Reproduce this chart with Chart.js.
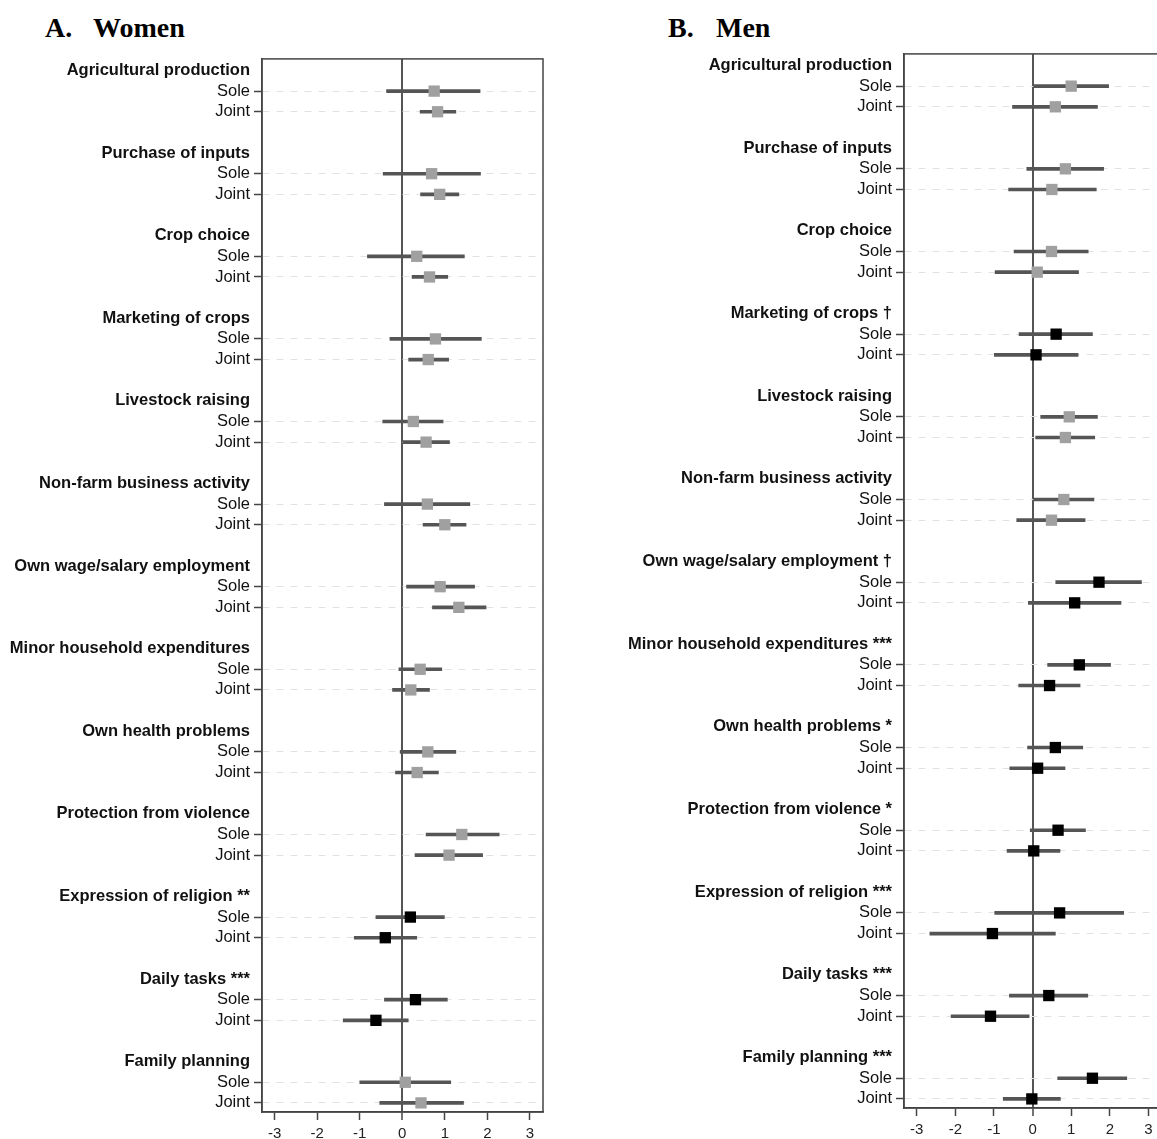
<!DOCTYPE html>
<html lang="en">
<head>
<meta charset="UTF-8">
<title>Decision-making: Women and Men</title>
<script src="https://cdn.jsdelivr.net/npm/chart.js"></script>
<style>
  body {
    margin: 0;
    background: #fff;
    width: 1157px;
    height: 1139px;
    overflow: hidden;
    position: relative;
  }
  .title {
    position: absolute;
    top: 12px;
    font-family: 'Liberation Serif', 'Times New Roman', serif;
    font-weight: bold;
    font-size: 28px;
    line-height: 32px;
    color: #000;
    white-space: nowrap;
  }
  .title span { display: inline-block; width: 48px; }
  .box { position: absolute; }
</style>
</head>
<body>
<div class="title" style="left:45px"><span>A.</span>Women</div>
<div class="title" style="left:668px"><span>B.</span>Men</div>

<div class="box" style="left:0; top:45px;"><canvas id="womenChart" width="560" height="1094"></canvas></div>
<div class="box" style="left:600px; top:40px;"><canvas id="menChart" width="570" height="1095"></canvas></div>

<script>
const groups = ['Agricultural production', 'Purchase of inputs', 'Crop choice', 'Marketing of crops',
  'Livestock raising', 'Non-farm business activity', 'Own wage/salary employment',
  'Minor household expenditures', 'Own health problems', 'Protection from violence',
  'Expression of religion', 'Daily tasks', 'Family planning'];
const xTicks = [-3, -2, -1, 0, 1, 2, 3];

// women
const womenStars = ['', '', '', '', '', '', '', '', '', '', '**', '***', ''];
const womenSoleEst = [0.75, 0.69, 0.34, 0.78, 0.26, 0.59, 0.89, 0.42, 0.60, 1.40, 0.19, 0.31, 0.07];
const womenSoleLo = [-0.37, -0.45, -0.82, -0.29, -0.46, -0.42, 0.10, -0.08, -0.05, 0.56, -0.62, -0.42, -1.00];
const womenSoleHi = [1.83, 1.84, 1.46, 1.86, 0.96, 1.59, 1.70, 0.93, 1.26, 2.28, 0.99, 1.06, 1.14];
const womenJointEst = [0.83, 0.88, 0.64, 0.61, 0.56, 1.00, 1.33, 0.20, 0.35, 1.10, -0.40, -0.62, 0.44];
const womenJointLo = [0.42, 0.43, 0.23, 0.15, 0.02, 0.49, 0.71, -0.23, -0.16, 0.30, -1.13, -1.39, -0.53];
const womenJointHi = [1.26, 1.33, 1.07, 1.09, 1.11, 1.50, 1.97, 0.64, 0.85, 1.89, 0.34, 0.14, 1.44];

// men
const menStars = ['', '', '', '\u2020', '', '', '\u2020', '***', '*', '*', '***', '***', '***'];
const menSoleEst = [1.00, 0.85, 0.49, 0.61, 0.95, 0.81, 1.72, 1.21, 0.59, 0.66, 0.70, 0.42, 1.55];
const menSoleLo = [0.00, -0.15, -0.48, -0.35, 0.21, 0.00, 0.60, 0.39, -0.13, -0.06, -0.98, -0.60, 0.65];
const menSoleHi = [1.97, 1.84, 1.44, 1.55, 1.68, 1.59, 2.82, 2.02, 1.30, 1.37, 2.36, 1.43, 2.44];
const menJointEst = [0.59, 0.50, 0.12, 0.09, 0.85, 0.49, 1.09, 0.44, 0.13, 0.03, -1.04, -1.09, -0.02];
const menJointLo = [-0.52, -0.62, -0.97, -0.99, 0.08, -0.41, -0.11, -0.36, -0.59, -0.66, -2.66, -2.11, -0.76];
const menJointHi = [1.68, 1.65, 1.19, 1.18, 1.61, 1.36, 2.29, 1.23, 0.84, 0.71, 0.59, -0.09, 0.72];

const FONT = "'Liberation Sans', Arial, sans-serif";

// box around the plot area
const framePlugin = {
  id: 'frame',
  afterDraw(chart) {
    const { ctx, chartArea: a } = chart;
    ctx.save();
    ctx.strokeStyle = '#444';
    ctx.lineWidth = 1.5;
    ctx.strokeRect(a.left, a.top, a.right - a.left, a.bottom - a.top);
    ctx.restore();
  }
};

function makeChart(id, stars, sEst, sLo, sHi, jEst, jLo, jHi, cfg) {
  // each group takes 4 rows: heading, Sole, Joint, blank
  const rowLabels = {};
  const ci = [], pts = [], colors = [];
  groups.forEach((g, i) => {
    const r = 4 * i;
    rowLabels[r] = stars[i] ? g + ' ' + stars[i] : g;
    rowLabels[r + 1] = 'Sole';
    rowLabels[r + 2] = 'Joint';
    const c = stars[i] ? '#000000' : '#a0a0a0';
    ci.push({ y: r + 1, x: [sLo[i], sHi[i]] });
    ci.push({ y: r + 2, x: [jLo[i], jHi[i]] });
    pts.push({ x: sEst[i], y: r + 1 });
    pts.push({ x: jEst[i], y: r + 2 });
    colors.push(c, c);
  });
  const rows = Object.keys(rowLabels).map(Number);
  const isHead = v => v % 4 === 0;

  new Chart(document.getElementById(id), {
    type: 'scatter',
    data: {
      datasets: [
        {
          type: 'scatter',
          data: pts,
          pointStyle: 'rect',
          pointRadius: 8,
          backgroundColor: colors,
          borderColor: colors,
          borderWidth: 0,
          order: 0
        },
        {
          type: 'bar',
          indexAxis: 'y',
          data: ci,
          backgroundColor: '#555',
          barThickness: 3,
          order: 1
        }
      ]
    },
    options: {
      responsive: false,
      animation: false,
      events: [],
      layout: { padding: { top: 9, right: cfg.padRight, left: 0, bottom: 0 } },
      plugins: { legend: { display: false }, tooltip: { enabled: false } },
      scales: {
        x: {
          type: 'linear',
          min: cfg.xMin,
          max: cfg.xMax,
          offset: false,
          afterBuildTicks: s => { s.ticks = xTicks.map(v => ({ value: v })); },
          afterFit: s => { s.height = 27; },
          ticks: {
            callback: v => String(v),
            font: { family: FONT, size: 15 },
            color: '#222',
            padding: 5,
            maxRotation: 0
          },
          grid: {
            offset: false,
            color: c => (c.tick && c.tick.value === 0 ? '#555' : 'transparent'),
            lineWidth: c => (c.tick && c.tick.value === 0 ? 2 : 1),
            tickColor: '#444',
            tickWidth: 1.5,
            tickLength: 8
          },
          border: { color: '#444', width: 1.5 }
        },
        y: {
          type: 'linear',
          reverse: true,
          min: -0.56,
          max: 50.44,
          offset: false,
          afterBuildTicks: s => { s.ticks = rows.map(v => ({ value: v })); },
          afterFit: s => { s.width = cfg.axisWidth; },
          ticks: {
            autoSkip: false,
            callback: v => rowLabels[v],
            font: c => ({ family: FONT, size: 16.5, weight: c.tick && isHead(c.tick.value) ? 'bold' : 'normal' }),
            color: '#111',
            padding: 4
          },
          grid: {
            offset: false,
            color: c => (c.tick && !isHead(c.tick.value) ? '#e2e2e2' : 'transparent'),
            lineWidth: 1,
            tickColor: c => (c.tick && !isHead(c.tick.value) ? '#444' : 'transparent'),
            tickWidth: 1.5,
            tickLength: 8
          },
          border: { color: '#444', width: 1.5, dash: [7, 7] }
        }
      }
    },
    plugins: [framePlugin]
  });
}

makeChart('womenChart', womenStars, womenSoleEst, womenSoleLo, womenSoleHi,
  womenJointEst, womenJointLo, womenJointHi,
  { xMin: -3.3, xMax: 3.31, axisWidth: 262, padRight: 17 });

makeChart('menChart', menStars, menSoleEst, menSoleLo, menSoleHi,
  menJointEst, menJointLo, menJointHi,
  { xMin: -3.33, xMax: 3.3, axisWidth: 304, padRight: 10 });
</script>
</body>
</html>
